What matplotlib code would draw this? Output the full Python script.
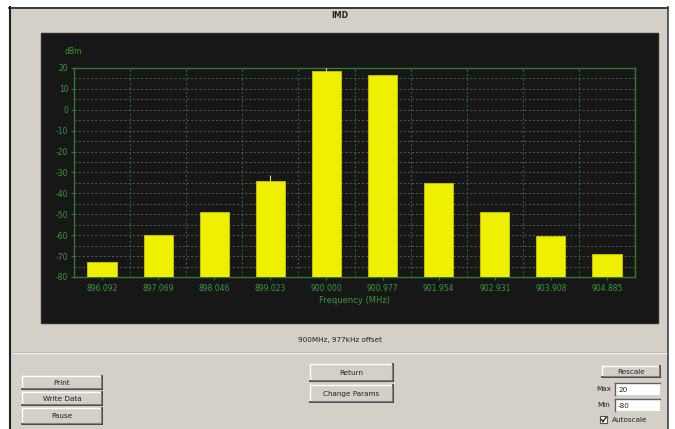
import numpy as np
import matplotlib
matplotlib.use("Agg")
import matplotlib.pyplot as plt
from matplotlib.patches import Rectangle
from matplotlib.lines import Line2D

# --- data -----------------------------------------------------------------
freq_labels = ["896.092", "897.069", "898.046", "899.023", "900.000",
               "900.977", "901.954", "902.931", "903.908", "904.885"]
power_dbm = [-73.0, -60.0, -49.0, -34.0, 18.7, 16.7, -35.0, -49.0, -60.4, -69.2]
peak_markers = {3: -31.0, 4: 21.0}   # peak-hold ticks above some bars
y_ticks = [20, 10, 0, -10, -20, -30, -40, -50, -60, -70, -80]
y_min, y_max = -80, 20

W, H = 675, 429
fig = plt.figure(figsize=(W / 100, H / 100), dpi=100)
fig.patch.set_facecolor("white")

GRAY = "#d4d0c8"


def rect(x0, y0, x1, y1, z=0.5, **kw):
    """Rectangle in pixel coordinates measured from the top-left corner."""
    r = Rectangle((x0 / W, 1 - y1 / H), (x1 - x0) / W, (y1 - y0) / H,
                  transform=fig.transFigure, zorder=z, **kw)
    fig.add_artist(r)
    return r


def line(x0, y0, x1, y1, **kw):
    fig.add_artist(Line2D([x0 / W, x1 / W], [1 - y0 / H, 1 - y1 / H],
                          transform=fig.transFigure, zorder=0.6, **kw))


def text(x, y, s, **kw):
    fig.text(x / W, 1 - y / H, s, zorder=10, **kw)


def button(x0, y0, x1, y1, label):
    rect(x0, y0, x1, y1, facecolor=GRAY, edgecolor="none")
    line(x0, y0, x1, y0, color="white", lw=1)
    line(x0, y0, x0, y1, color="white", lw=1)
    line(x0, y1, x1, y1, color="#303030", lw=1.2)
    line(x1, y0, x1, y1, color="#303030", lw=1.2)
    line(x0 + 1, y1 - 1, x1 - 1, y1 - 1, color="#808080", lw=0.8)
    line(x1 - 1, y0 + 1, x1 - 1, y1 - 1, color="#808080", lw=0.8)
    text((x0 + x1) / 2, (y0 + y1) / 2 + 0.5, label, ha="center", va="center",
         fontsize=5.2, color="#202020")


def field(x0, y0, x1, y1, value):
    rect(x0, y0, x1, y1, facecolor="white", edgecolor="none")
    line(x0, y0, x1, y0, color="#606060", lw=1)
    line(x0, y0, x0, y1, color="#606060", lw=1)
    text(x0 + 3, (y0 + y1) / 2 + 0.5, value, ha="left", va="center",
         fontsize=5.2, color="#202020")


# --- window frame -----------------------------------------------------------
rect(9, 7, 668, 429, z=0.1, facecolor=GRAY, edgecolor="none")
line(9, 7.5, 668, 7.5, color="#202020", lw=1.2)
line(9.5, 7, 9.5, 429, color="#202020", lw=1.5)
line(667.5, 7, 667.5, 429, color="#404040", lw=1.2)
line(12, 353, 666, 353, color="#efefef", lw=1.0)
line(12, 352, 666, 352, color="#b8b4ac", lw=0.6)

text(340, 15, "IMD", ha="center", va="center", fontsize=5.5,
     color="#202020", fontweight="bold")

# dark display panel
rect(41, 33, 658, 323, z=0.2, facecolor="#171717", edgecolor="#2a2a2a", lw=1)

# --- plot -------------------------------------------------------------------
ax_l, ax_r, ax_t, ax_b = 74, 635, 68, 277
ax = fig.add_axes([ax_l / W, 1 - ax_b / H, (ax_r - ax_l) / W, (ax_b - ax_t) / H])
ax.set_zorder(5)
ax.set_facecolor("#171717")

x = np.arange(len(freq_labels))
heights = np.array(power_dbm) - y_min
ax.bar(x, heights, bottom=y_min, width=0.52, color="#eef000",
       edgecolor="#c8c800", linewidth=0.6, zorder=3)
for i, v in peak_markers.items():
    ax.vlines(i, power_dbm[i], v, color="#d8d8a0", lw=0.8, zorder=4)

ax.set_xlim(-0.5, len(freq_labels) - 0.5)
ax.set_ylim(y_min, y_max)

# grid: dashed lines every 5 dBm and at the category boundaries
for yv in np.arange(y_min + 5, y_max, 5):
    ax.axhline(yv, color="#4d6f4d", lw=0.6, ls=(0, (2.5, 2.5)), zorder=1)
for xv in np.arange(0.5, len(freq_labels) - 0.5, 1):
    ax.axvline(xv, color="#3d6f3d", lw=0.7, ls=(0, (2, 2.5)), zorder=1)

for s in ax.spines.values():
    s.set_color("#2e7a2e")
    s.set_linewidth(1.0)

green = "#3c9a3c"
ax.set_yticks(y_ticks)
ax.set_yticklabels([str(t) for t in y_ticks], fontsize=5.5, color=green)
ax.set_xticks(x)
ax.set_xticklabels(freq_labels, fontsize=5.5, color=green)
ax.tick_params(axis="both", length=2, color="#2e7a2e", pad=2)
ax.tick_params(axis="x", pad=3)
ax.set_xlabel("Frequency (MHz)", fontsize=6, color=green, labelpad=2)

text(73, 51, "dBm", ha="center", va="center", fontsize=5.5, color=green)

# --- controls ---------------------------------------------------------------
text(340, 340, "900MHz, 977kHz offset", ha="center", va="center",
     fontsize=5.2, color="#202020")

button(22, 376, 102, 389, "Print")
button(22, 392, 102, 405, "Write Data")
button(22, 408, 102, 424, "Pause")
button(310, 364, 393, 381, "Return")
button(310, 385, 393, 402, "Change Params")
button(602, 366, 660, 377, "Rescale")

text(604, 389, "Max", ha="center", va="center", fontsize=5.2, color="#202020")
field(615, 383, 660, 395, "20")
text(604, 405, "Min", ha="center", va="center", fontsize=5.2, color="#202020")
field(615, 399, 660, 411, "-80")

rect(600, 416, 607, 423, facecolor="white", edgecolor="#505050", lw=0.8)
line(601.5, 419.5, 603, 421.5, color="#101010", lw=0.9)
line(603, 421.5, 606, 417.5, color="#101010", lw=0.9)
text(612, 420, "Autoscale", ha="left", va="center", fontsize=5.2,
     color="#202020")

fig.savefig("out.png", dpi=100, facecolor=fig.get_facecolor())
